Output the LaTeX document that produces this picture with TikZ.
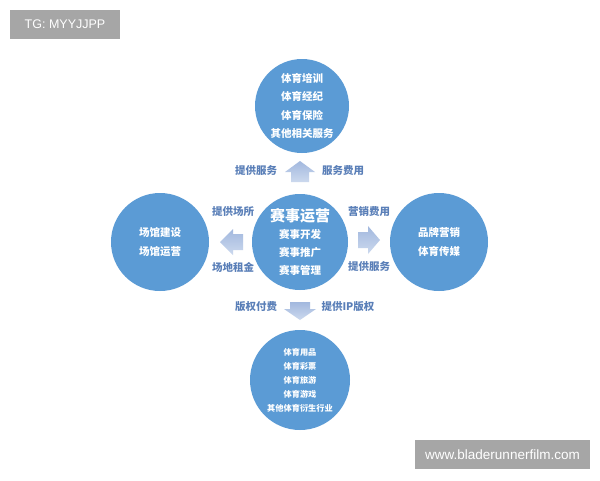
\documentclass[tikz,border=0pt]{standalone}
\usepackage{fontspec}
\setmainfont{Noto Sans CJK SC}
\newfontfamily\latinfont{Liberation Sans}
\definecolor{ballblue}{HTML}{5B9BD5}
\definecolor{arrowdark}{HTML}{A2B8DE}
\definecolor{arrowlight}{HTML}{CCD9EE}
\definecolor{labelblue}{HTML}{5A7FB8}
\definecolor{markgray}{HTML}{A6A6A6}
\tikzset{
  ball/.style={circle, fill=ballblue, text=white, font=\bfseries\fontsize{10.5}{18.5}\selectfont, align=center, inner sep=0pt},
  flowlabel/.style={text=labelblue, font=\bfseries\fontsize{10.5}{12}\selectfont, inner sep=0pt},
  fatarrow/.style={top color=arrowdark, bottom color=arrowlight, draw=none},
  watermark/.style={fill=markgray, text=white, font=\latinfont\fontsize{12.5}{14}\selectfont, inner sep=0pt}
}
\begin{document}
\begin{tikzpicture}[x=1pt, y=-1pt]
            \useasboundingbox (0,0) rectangle (600,480);
            \fill[white] (0,0) rectangle (600,480);
            % corner marks
            \node[watermark, minimum width=110pt, minimum height=29pt] (tg) at (65,24.5) {TG: MYYJJPP};
            \node[watermark, minimum width=175pt, minimum height=29pt, font=\latinfont\fontsize{13.5}{15}\selectfont] (site) at (502.5,454.5) {www.bladerunnerfilm.com};
            % circles
            \node[ball, minimum size=94pt] (svc) at (302,106) {体育培训\\体育经纪\\体育保险\\其他相关服务};
            \node[ball, minimum size=98pt] (venue) at (160,242) {场馆建设\\场馆运营};
            \node[ball, minimum size=98pt] (brand) at (439,242) {品牌营销\\体育传媒};
            \node[ball, minimum size=96pt, font=\bfseries\fontsize{10.5}{18}\selectfont] (event) at (300,242)
                {{\fontsize{15}{17}\selectfont 赛事运营}\\[-1pt]赛事开发\\赛事推广\\赛事管理};
            \node[ball, minimum size=100pt, font=\bfseries\fontsize{8.2}{14}\selectfont] (deriv) at (300,380)
                {体育用品\\体育彩票\\体育旅游\\体育游戏\\其他体育衍生行业};
            % arrows
            \shade[fatarrow] (285,172) -- (300,161) -- (315,172) -- (309,172) -- (309,182) -- (291,182) -- (291,172) -- cycle;
            \shade[fatarrow] (243,234) -- (233,234) -- (233,229) -- (220,242) -- (233,255) -- (233,250) -- (243,250) -- cycle;
            \shade[fatarrow] (358,232) -- (368,232) -- (368,226) -- (380,240) -- (368,254) -- (368,248) -- (358,248) -- cycle;
            \shade[fatarrow] (290,302) -- (310,302) -- (310,309) -- (316,309) -- (300,320) -- (284,309) -- (290,309) -- cycle;
            % labels
            \node[flowlabel] (l1) at (256,171) {提供服务};
            \node[flowlabel] (l2) at (343,171) {服务费用};
            \node[flowlabel] (l3) at (233,212) {提供场所};
            \node[flowlabel] (l4) at (233,267) {场地租金};
            \node[flowlabel] (l5) at (369,212) {营销费用};
            \node[flowlabel] (l6) at (369,267) {提供服务};
            \node[flowlabel] (l7) at (256,307) {版权付费};
            \node[flowlabel] (l8) at (348,307) {提供IP版权};
        \end{tikzpicture}
\end{document}
